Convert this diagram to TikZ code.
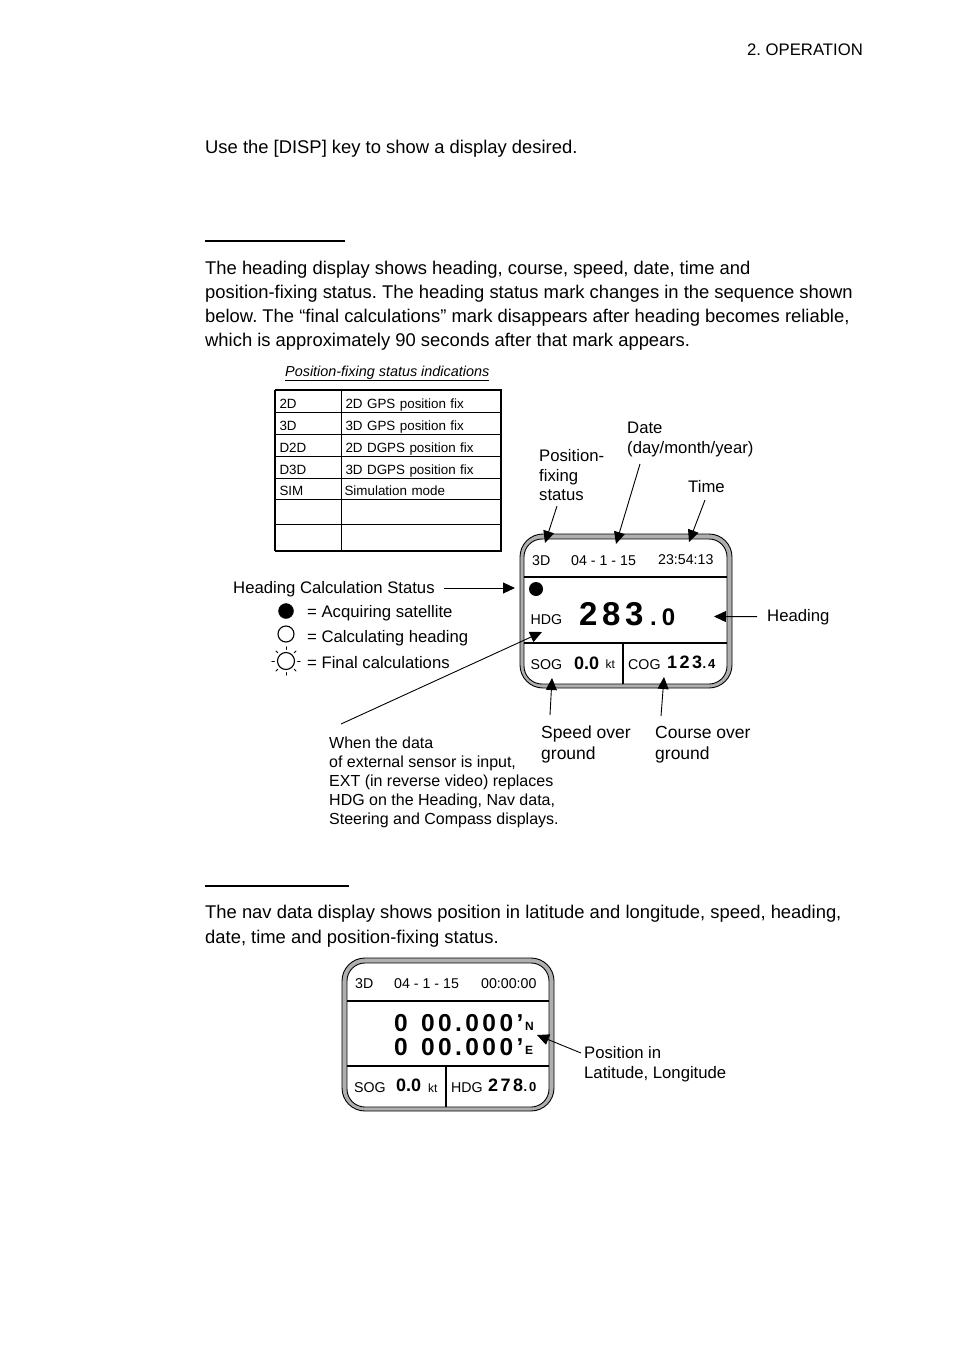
\documentclass[tikz,border=0pt]{standalone}
\usepackage{fontspec}
\setmainfont{Liberation Sans}
\newfontfamily\spacedfont[LetterSpace=14]{Liberation Sans}
\usepackage{xcolor}
\usetikzlibrary{arrows.meta}
\definecolor{framegray}{RGB}{175, 175, 175}
\frenchspacing

\begin{document}
\begin{tikzpicture}[
    x=1pt, y=-1pt,
    body/.style={anchor=base west, inner sep=0pt, font=\fontsize{18.4}{24}\selectfont},
    label/.style={anchor=base west, inner sep=0pt, font=\fontsize{16.7}{20}\selectfont},
    widelabel/.style={label, font=\fontsize{17.5}{20}\selectfont},
    note/.style={anchor=base west, inner sep=0pt, font=\fontsize{16}{19}\selectfont},
    small/.style={anchor=base west, inner sep=0pt, font=\fontsize{14.2}{16}\selectfont},
    tiny/.style={anchor=base west, inner sep=0pt, font=\fontsize{12}{14}\selectfont},
    readout/.style={anchor=base west, inner sep=0pt, font=\fontsize{18}{20}\selectfont\bfseries},
    bigread/.style={anchor=base west, inner sep=0pt, font=\fontsize{24.5}{28}\spacedfont\bfseries},
    cell/.style={draw, line width=0.9pt, minimum width=66pt, outer sep=0pt, inner ysep=0pt, inner xsep=4.5pt,
                 text width=57pt, text height=14pt, text depth=0pt, align=left, font=\fontsize{13.4}{15}\selectfont},
    cellwide/.style={cell, minimum width=160pt, text width=151pt},
    frameouter/.style={draw, line width=0.9pt, fill=framegray, rounded corners=23pt, outer sep=0pt},
    frameinner/.style={draw, line width=0.9pt, fill=white, rounded corners=18pt, outer sep=0pt},
    pointer/.style={line width=0.9pt, -{Triangle[length=12pt, width=11pt]}},
    rule/.style={line width=2pt},
    bar/.style={line width=1.8pt},
    thinbar/.style={line width=1.1pt},
    sunray/.style={line width=1pt, line cap=round}
]
    \useasboundingbox (0,0) rectangle (954,1351);

    % Page text
    \node[body, anchor=base east, font=\fontsize{16.7}{20}\selectfont] (pagehead) at (863,55.5) {2. OPERATION};
    \node[body] (intro) at (205,153.5) {Use the [DISP] key to show a display desired.};
    \draw[rule] (205,241) -- (345,241);
    \node[body] (headline1) at (205,274) {The heading display shows heading, course, speed, date, time and};
    \node[body] (headline2) at (205,298) {position-fixing status. The heading status mark changes in the sequence shown};
    \node[body] (headline3) at (205,322) {below. The “final calculations” mark disappears after heading becomes reliable,};
    \node[body] (headline4) at (205,346) {which is approximately 90 seconds after that mark appears.};
    \draw[rule] (205,886) -- (349,886);
    \node[body] (navline1) at (205,918) {The nav data display shows position in latitude and longitude, speed, heading,};
    \node[body] (navline2) at (205,943) {date, time and position-fixing status.};

    % Status table
    \node[note, font=\fontsize{14.4}{16}\selectfont\itshape] (tabletitle) at (285,376) {Position-fixing status indications};
    \draw[line width=0.9pt] (285,380) -- (489,380);

    \node[cell, minimum height=22pt] (codea) at (308,401) {2D};
    \node[cellwide, minimum height=22pt] (texta) at (421,401) {2D GPS position fix};
    \node[cell, minimum height=22pt] (codeb) at (308,423) {3D};
    \node[cellwide, minimum height=22pt] (textb) at (421,423) {3D GPS position fix};
    \node[cell, minimum height=22pt] (codec) at (308,445) {D2D};
    \node[cellwide, minimum height=22pt] (textc) at (421,445) {2D DGPS position fix};
    \node[cell, minimum height=22pt] (coded) at (308,467) {D3D};
    \node[cellwide, minimum height=22pt] (textd) at (421,467) {3D DGPS position fix};
    \node[cell, minimum height=21pt] (codee) at (308,488.5) {SIM};
    \node[cellwide, minimum height=21pt] (texte) at (421,488.5) {\hspace{-1pt}Simulation mode};
    \node[cell, minimum height=25pt] (codef) at (308,511.5) {};
    \node[cellwide, minimum height=25pt] (textf) at (421,511.5) {};
    \node[cell, minimum height=27pt] (codeg) at (308,537.5) {};
    \node[cellwide, minimum height=27pt] (textg) at (421,537.5) {};
    \draw[line width=1.6pt] (codea.north west) -- (texta.north east) -- (textg.south east);
    \draw[line width=1.6pt] (codea.north west) -- (codeg.south west);
    \draw[line width=2.6pt] (codeg.south west) -- (textg.south east);

    % Heading display
    \node[frameouter, minimum width=212pt, minimum height=154pt] (headframe) at (626,611) {};
    \node[frameinner, minimum width=203pt, minimum height=145pt] (headscreen) at (625.5,611.5) {};
    \draw[thinbar] (524,577) -- (727,577);
    \draw[bar] (524,643) -- (727,643);
    \draw[thinbar] (623,643) -- (623,684);
    \node[small] (headfix) at (532,565) {3D};
    \node[small] (headdate) at (571,565) {04 - 1 - 15};
    \node[small] (headtime) at (658,564) {23:54:13};
    \node[fill, circle, minimum size=14pt, inner sep=0pt] (headmark) at (536,589) {};
    \node[small] (hdgname) at (530.5,624) {HDG};
    \node[bigread, font=\fontsize{33}{36}\spacedfont\bfseries] (hdgvalue) at (579,625) {283};
    \node[bigread, font=\fontsize{24}{26}\spacedfont\bfseries] (hdgdecimal) at (650,625) {.\hspace{5pt}0};
    \node[small] (sogname) at (530.5,669) {SOG};
    \node[readout] (sogvalue) at (574,669) {0.0};
    \node[tiny] (sogunit) at (605.5,668) {kt};
    \node[small] (cogname) at (628,669) {COG};
    \node[readout, font=\fontsize{18}{20}\spacedfont\bfseries] (cogvalue) at (667,668) {123};
    \node[readout, font=\fontsize{13}{15}\spacedfont\bfseries] (cogdecimal) at (702.5,668) {.4};

    % Heading display callouts
    \node[label] (fixlabela) at (539,461) {Position-};
    \node[label] (fixlabelb) at (539,481) {fixing};
    \node[label] (fixlabelc) at (539,500) {status};
    \node[label] (datelabela) at (627,433) {Date};
    \node[label] (datelabelb) at (627,453) {(day/month/year)};
    \node[label] (timelabel) at (688,492) {Time};
    \node[label] (headinglabel) at (767,621) {Heading};
    \node[widelabel] (speedlabela) at (541,738) {Speed over};
    \node[widelabel] (speedlabelb) at (541,759) {ground};
    \node[widelabel] (courselabela) at (655,738) {Course over};
    \node[widelabel] (courselabelb) at (655,759) {ground};
    \node[label] (statuslabel) at (233,593) {Heading Calculation Status};
    \node[label] (acquirelabel) at (307,617) {= Acquiring satellite};
    \node[label] (calclabel) at (307,642) {= Calculating heading};
    \node[label] (finallabel) at (307,668) {= Final calculations};
    \node[fill, draw, circle, minimum size=15pt, inner sep=0pt] (acquiremark) at (286,611) {};
    \node[draw, line width=1.1pt, circle, minimum size=16pt, inner sep=0pt] (calcmark) at (286,634) {};
    \node[draw, line width=1.1pt, circle, minimum size=17pt, inner sep=0pt] (sunmark) at (286,661) {};
    \draw[sunray] (sunmark.0) ++(0:2.5) -- ++(0:2.5);
    \draw[sunray] (sunmark.45) ++(-45:2.5) -- ++(-45:2.5);
    \draw[sunray] (sunmark.90) ++(-90:2.5) -- ++(-90:2.5);
    \draw[sunray] (sunmark.135) ++(-135:2.5) -- ++(-135:2.5);
    \draw[sunray] (sunmark.180) ++(180:2.5) -- ++(180:2.5);
    \draw[sunray] (sunmark.225) ++(135:2.5) -- ++(135:2.5);
    \draw[sunray] (sunmark.270) ++(90:2.5) -- ++(90:2.5);
    \draw[sunray] (sunmark.315) ++(45:2.5) -- ++(45:2.5);
    \node[note] (notea) at (329,748) {When the data};
    \node[note] (noteb) at (329,767) {of external sensor is input,};
    \node[note] (notec) at (329,786) {EXT (in reverse video) replaces};
    \node[note] (noted) at (329,805) {HDG on the Heading, Nav data,};
    \node[note] (notee) at (329,824) {Steering and Compass displays.};

    \coordinate (fixstart) at (557,506);
    \coordinate (fixtip) at (545,543);
    \coordinate (datestart) at (640,464);
    \coordinate (datetip) at (616,544);
    \coordinate (timestart) at (705,500);
    \coordinate (timetip) at (689,542);
    \coordinate (headingtip) at (714,616.5);
    \coordinate (statusstart) at (444,588);
    \coordinate (statustip) at (515,588);
    \coordinate (notestart) at (341,724);
    \coordinate (notetip) at (542,632);
    \coordinate (speedstart) at (550,715);
    \coordinate (speedtip) at (552,678);
    \coordinate (coursestart) at (661,716);
    \coordinate (coursetip) at (664,677);
    \draw[pointer] (fixstart) -- (fixtip);
    \draw[pointer] (datestart) -- (datetip);
    \draw[pointer] (timestart) -- (timetip);
    \draw[pointer] ([xshift=-10pt]headinglabel.west) -- (headingtip);
    \draw[pointer] (statusstart) -- (statustip);
    \draw[pointer] (notestart) -- (notetip);
    \draw[pointer] (speedstart) -- (speedtip);
    \draw[pointer] (coursestart) -- (coursetip);

    % Nav data display
    \node[frameouter, minimum width=212pt, minimum height=153pt] (navframe) at (448,1034.5) {};
    \node[frameinner, minimum width=202pt, minimum height=144pt] (navscreen) at (448,1035) {};
    \draw[bar] (347,1001) -- (549,1001);
    \draw[thinbar] (347,1066) -- (549,1066);
    \draw[bar] (446,1066) -- (446,1107);
    \node[small] (navfix) at (355,988) {3D};
    \node[small] (navdate) at (394,988) {04 - 1 - 15};
    \node[small] (navtime) at (481,988) {00:00:00};
    \node[bigread] (latvalue) at (394,1031) {0\hspace{3pt} 00.000’};
    \node[tiny, font=\fontsize{12}{14}\bfseries] (latside) at (525,1030.5) {N};
    \node[bigread] (lonvalue) at (394,1055) {0\hspace{3pt} 00.000’};
    \node[tiny, font=\fontsize{12}{14}\bfseries] (lonside) at (525,1054.5) {E};
    \node[small] (navsogname) at (354,1092) {SOG};
    \node[readout] (navsogvalue) at (396,1091) {0.0};
    \node[tiny] (navsogunit) at (428,1092) {kt};
    \node[small] (navhdgname) at (451,1092) {HDG};
    \node[readout, font=\fontsize{18}{20}\spacedfont\bfseries] (navhdgvalue) at (488,1091) {278};
    \node[readout, font=\fontsize{13}{15}\spacedfont\bfseries] (navhdgdecimal) at (523.5,1091) {.0};
    \node[label] (poslabela) at (584,1058) {Position in};
    \node[label] (poslabelb) at (584,1078) {Latitude, Longitude};
    \coordinate (posstart) at (581,1053);
    \coordinate (postip) at (537,1035);
    \draw[pointer] (posstart) -- (postip);
\end{tikzpicture}
\end{document}
